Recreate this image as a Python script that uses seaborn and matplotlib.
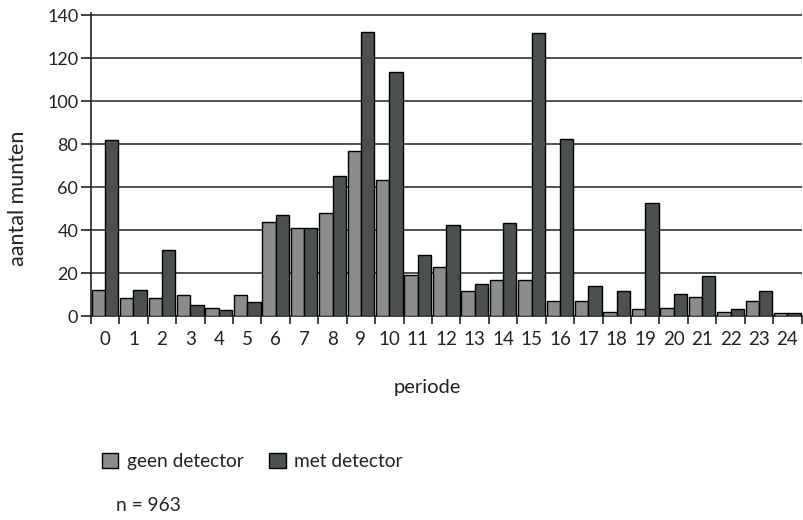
import numpy as np
import pandas as pd
import matplotlib
matplotlib.use("Agg")
import matplotlib.pyplot as plt
import seaborn as sns
from matplotlib.patches import Patch

periods = [str(i) for i in range(25)]
geen_detector = [12, 8.5, 8.5, 10, 4, 10, 44, 41, 48, 77, 63.5, 19, 23, 11.5, 17, 17, 7, 7, 2, 3.5, 4, 9, 2, 7, 1.5]
met_detector = [82, 12, 31, 5, 3, 6.5, 47, 41, 65, 132, 113.5, 28.5, 42.5, 15, 43.5, 131.5, 82.5, 14, 11.5, 52.5, 10.5, 18.5, 3.5, 11.5, 1.5]
series_names = ["geen detector", "met detector"]
y_ticks = [0, 20, 40, 60, 80, 100, 120, 140]

df = pd.DataFrame({
    "periode": periods * 2,
    "aantal": geen_detector + met_detector,
    "groep": [series_names[0]] * len(periods) + [series_names[1]] * len(periods),
})

sns.set_theme(style="white")
plt.rcParams["font.family"] = ["Lato", "DejaVu Sans"]

colors = ["#8c8c8c", "#4b5150"]

fig = plt.figure(figsize=(8.04, 5.20), dpi=100)
ax = fig.add_axes([0.113, 0.392, 0.884, 0.583])

sns.barplot(data=df, x="periode", y="aantal", hue="groep", order=periods,
            hue_order=series_names, palette=colors, width=0.94,
            edgecolor="black", linewidth=1.0, saturation=1, ax=ax,
            legend=False, zorder=3)

ax.set_xlim(-0.5, len(periods) - 0.5)
ax.set_ylim(0, 141)
ax.set_yticks(y_ticks)
ax.set_yticklabels([str(v) for v in y_ticks], fontsize=13)
ax.yaxis.grid(True, color="#222222", linewidth=1.1, zorder=0)
ax.set_axisbelow(True)

ax.set_xticks(range(len(periods)))
ax.set_xticklabels(periods, fontsize=13.5)
ax.set_xticks(np.arange(-0.5, len(periods)), minor=True)
ax.tick_params(axis="x", which="major", length=0, pad=11, colors="#222222")
ax.tick_params(axis="x", which="minor", length=6, width=1.2, direction="out", color="#222222")
ax.tick_params(axis="y", length=7, width=1.2, direction="out", color="#222222", pad=2, labelcolor="#222222")
ax.tick_params(bottom=True, left=True, which="both")

for s in ["top", "right"]:
    ax.spines[s].set_visible(False)
for s in ["left", "bottom"]:
    ax.spines[s].set_color("#222222")
    ax.spines[s].set_linewidth(1.2)

ax.set_xlabel("")
ax.set_ylabel("")
fig.text(0.022, 0.619, "aantal munten", rotation=90, ha="center", va="center",
         fontsize=15.5, color="#222222")
fig.text(0.532, 0.254, "periode", ha="center", va="center", fontsize=14.5, color="#222222")

handles = [Patch(facecolor=colors[0], edgecolor="black", linewidth=1.0),
           Patch(facecolor=colors[1], edgecolor="black", linewidth=1.0)]
fig.legend(handles, series_names, loc="center left", bbox_to_anchor=(0.105, 0.113),
           ncol=2, frameon=False, fontsize=13.8, handlelength=0.85, handleheight=0.85,
           handletextpad=0.45, columnspacing=1.35, labelcolor="#222222")
fig.text(0.144, 0.027, "n = 963", ha="left", va="center", fontsize=13.8, color="#222222")

fig.savefig("out.png", dpi=100)
